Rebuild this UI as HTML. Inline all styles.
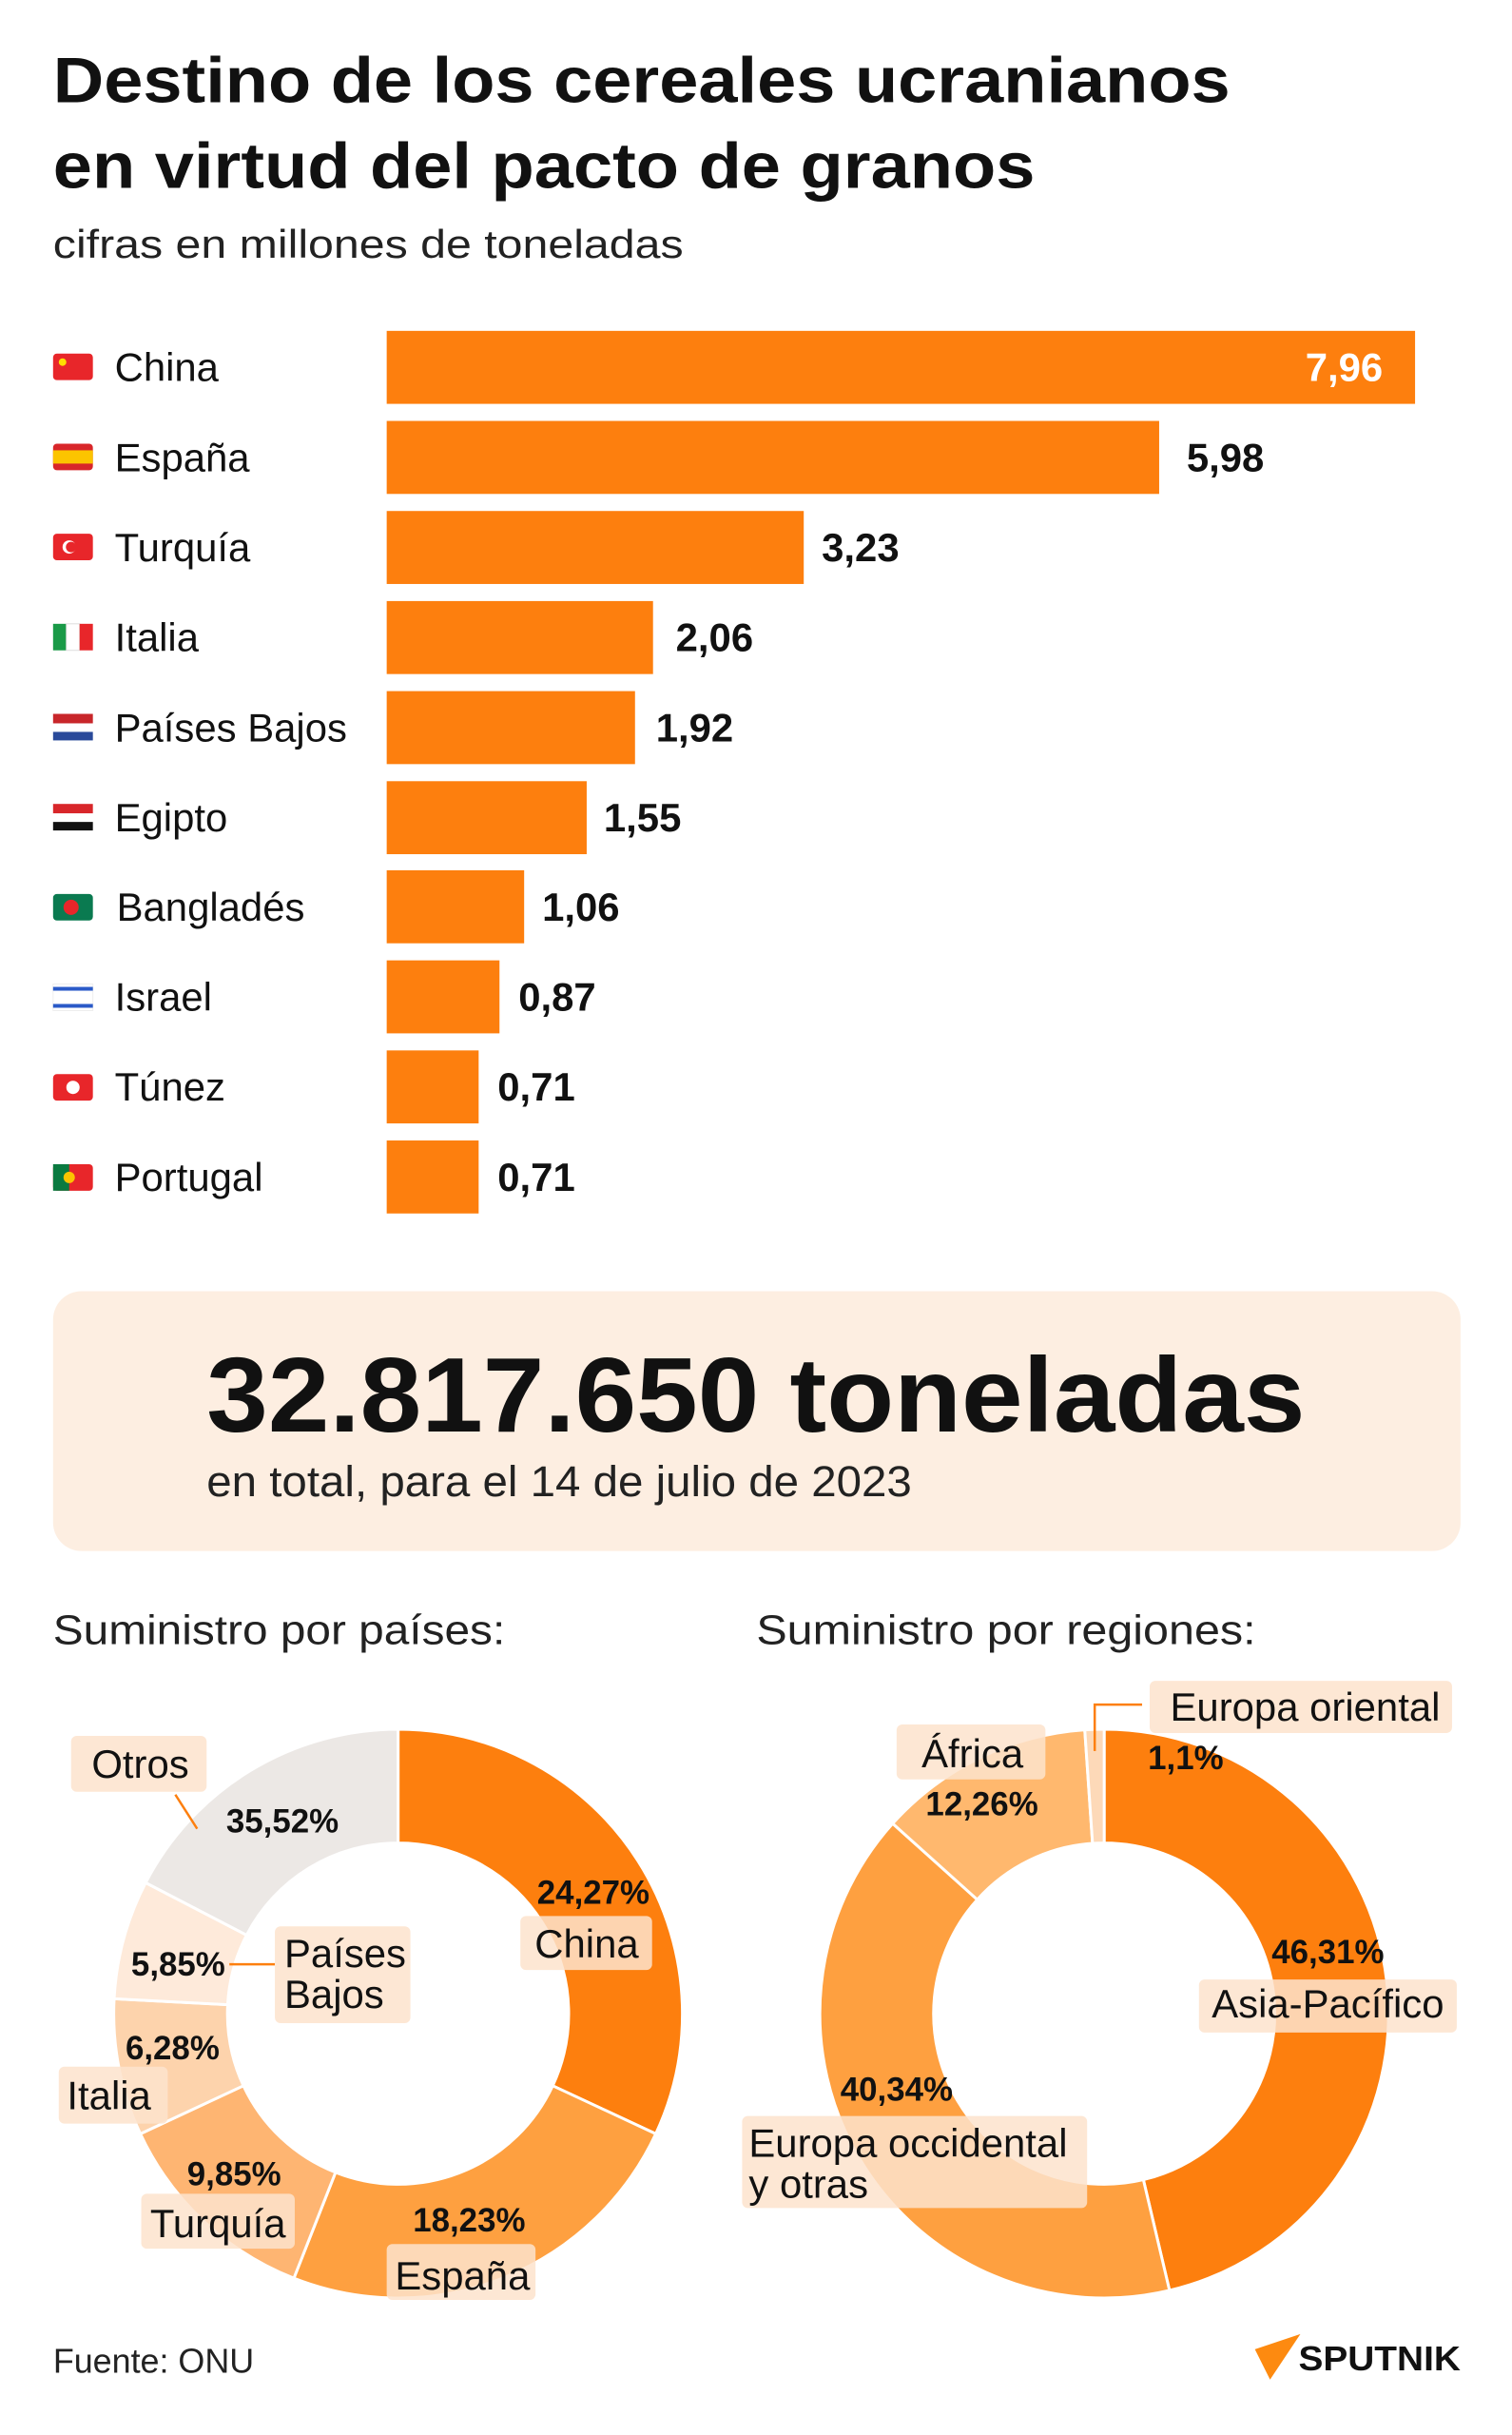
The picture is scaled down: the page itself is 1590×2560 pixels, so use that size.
<!DOCTYPE html>
<html><head><meta charset="utf-8"><style>
html,body{margin:0;padding:0;background:#fff}
svg{display:block}
text{font-family:"Liberation Sans",sans-serif}
</style></head><body>
<svg width="1590" height="2560" viewBox="0 0 1590 2560" xmlns="http://www.w3.org/2000/svg">
<rect width="1590" height="2560" fill="#fff"/>
<g transform="scale(0.9967)">
<text x="56" y="108" font-size="68" font-weight="bold" fill="#111" textLength="1242" lengthAdjust="spacingAndGlyphs">Destino de los cereales ucranianos</text>
<text x="56" y="198" font-size="68" font-weight="bold" fill="#111" textLength="1036" lengthAdjust="spacingAndGlyphs">en virtud del pacto de granos</text>
<text x="56" y="272" font-size="42" fill="#222" textLength="665" lengthAdjust="spacingAndGlyphs">cifras en millones de toneladas</text>

<g font-size="42" fill="#111">
<g fill="#fd7f0e">
<rect x="408" y="349" width="1085" height="77"/>
<rect x="408" y="444" width="815" height="77"/>
<rect x="408" y="539" width="440" height="77"/>
<rect x="408" y="634" width="281" height="77"/>
<rect x="408" y="729" width="262" height="77"/>
<rect x="408" y="824" width="211" height="77"/>
<rect x="408" y="918" width="145" height="77"/>
<rect x="408" y="1013" width="119" height="77"/>
<rect x="408" y="1108" width="97" height="77"/>
<rect x="408" y="1203" width="97" height="77"/>
</g>
<g font-weight="bold">
<text x="1459" y="402" fill="#fff" text-anchor="end">7,96</text>
<text x="1252" y="497">5,98</text>
<text x="867" y="592">3,23</text>
<text x="713" y="687">2,06</text>
<text x="692" y="782">1,92</text>
<text x="637" y="877">1,55</text>
<text x="572" y="971">1,06</text>
<text x="547" y="1066">0,87</text>
<text x="525" y="1161">0,71</text>
<text x="525" y="1256">0,71</text>
</g>
<text x="121" y="402">China</text>
<text x="121" y="497">España</text>
<text x="121" y="592">Turquía</text>
<text x="121" y="687">Italia</text>
<text x="121" y="782">Países Bajos</text>
<text x="121" y="877">Egipto</text>
<text x="123" y="971">Bangladés</text>
<text x="121" y="1066">Israel</text>
<text x="121" y="1161">Túnez</text>
<text x="121" y="1256">Portugal</text>
</g>
<g>
<rect x="56" y="373" width="42" height="28" rx="4" fill="#e8262a"/><circle cx="66" cy="382" r="4" fill="#ffde00"/>
<rect x="56" y="468" width="42" height="28" rx="4" fill="#d8262a"/><rect x="56" y="475" width="42" height="14" fill="#fcc400"/>
<rect x="56" y="563" width="42" height="28" rx="4" fill="#e8262a"/><circle cx="73" cy="577" r="7" fill="#fff"/><circle cx="75" cy="577" r="5.5" fill="#e8262a"/>
<rect x="56" y="658" width="14" height="28" fill="#1a9a48"/><rect x="70" y="658" width="14" height="28" fill="#fff" stroke="#ddd"/><rect x="84" y="658" width="14" height="28" fill="#e8262a"/>
<rect x="56" y="753" width="42" height="10" fill="#c8262a"/><rect x="56" y="763" width="42" height="9" fill="#fff"/><rect x="56" y="772" width="42" height="9" fill="#2a4a9a"/>
<rect x="56" y="848" width="42" height="10" fill="#d8262a"/><rect x="56" y="858" width="42" height="9" fill="#fff"/><rect x="56" y="867" width="42" height="9" fill="#111"/>
<rect x="56" y="943" width="42" height="28" rx="4" fill="#0a7a50"/><circle cx="75" cy="957" r="8" fill="#e8262a"/>
<rect x="56" y="1038" width="42" height="28" fill="#fff" stroke="#eee"/><rect x="56" y="1041" width="42" height="4" fill="#2a5ac8"/><rect x="56" y="1059" width="42" height="4" fill="#2a5ac8"/>
<rect x="56" y="1133" width="42" height="28" rx="4" fill="#e8262a"/><circle cx="77" cy="1147" r="7" fill="#fff"/>
<rect x="56" y="1228" width="42" height="28" rx="4" fill="#e8262a"/><rect x="56" y="1228" width="17" height="28" fill="#0a7a40"/><circle cx="73" cy="1242" r="6" fill="#fcc400"/>
</g>

<rect x="56" y="1362" width="1485" height="274" rx="30" fill="#fdeee1"/>
<text x="218" y="1510" font-size="112" font-weight="bold" fill="#111" textLength="1159" lengthAdjust="spacingAndGlyphs">32.817.650 toneladas</text>
<text x="218" y="1578" font-size="46" fill="#222" textLength="744" lengthAdjust="spacingAndGlyphs">en total, para el 14 de julio de 2023</text>

<text x="56" y="1734" font-size="44" fill="#222" textLength="477" lengthAdjust="spacingAndGlyphs">Suministro por países:</text>
<text x="798" y="1734" font-size="44" fill="#222" textLength="527" lengthAdjust="spacingAndGlyphs">Suministro por regiones:</text>

<g stroke="#fff" stroke-width="3">
<path fill="#fd7f0e" d="M420,1824 A300,300 0 0 1 691.89,2250.79 L583.14,2200.07 A180,180 0 0 0 420,1944 Z"/>
<path fill="#fea040" d="M691.89,2250.79 A300,300 0 0 1 310.05,2403.13 L354.03,2291.48 A180,180 0 0 0 583.14,2200.07 Z"/>
<path fill="#feb572" d="M310.05,2403.13 A300,300 0 0 1 148.11,2250.79 L256.86,2200.07 A180,180 0 0 0 354.03,2291.48 Z"/>
<path fill="#fdd3ac" d="M148.11,2250.79 A300,300 0 0 1 120.41,2108.30 L240.25,2114.58 A180,180 0 0 0 256.86,2200.07 Z"/>
<path fill="#feeada" d="M120.41,2108.30 A300,300 0 0 1 153.65,1985.94 L260.19,2041.16 A180,180 0 0 0 240.25,2114.58 Z"/>
<path fill="#ece8e5" d="M153.65,1985.94 A300,300 0 0 1 420,1824 L420,1944 A180,180 0 0 0 260.19,2041.16 Z"/>
</g>
<g stroke="#fff" stroke-width="3">
<path fill="#fd7f0e" d="M1165,1824 A300,300 0 0 1 1233.91,2415.98 L1206.35,2299.19 A180,180 0 0 0 1165,1944 Z"/>
<path fill="#fea040" d="M1233.91,2415.98 A300,300 0 0 1 941.82,1923.52 L1031.09,2003.71 A180,180 0 0 0 1206.35,2299.19 Z"/>
<path fill="#ffb86e" d="M941.82,1923.52 A300,300 0 0 1 1144.49,1824.70 L1152.70,1944.42 A180,180 0 0 0 1031.09,2003.71 Z"/>
<path fill="#fdd9b8" d="M1144.49,1824.70 A300,300 0 0 1 1165,1824 L1165,1944 A180,180 0 0 0 1152.70,1944.42 Z"/>
</g>

<g stroke="#fd7f0e" stroke-width="2.5" fill="none">
<line x1="185" y1="1893" x2="208" y2="1929"/>
<line x1="242" y1="2072" x2="290" y2="2072"/>
<polyline points="1155,1847 1155,1798 1205,1798"/>
</g>

<g fill="#fde3cc" fill-opacity="0.85">
<rect x="75" y="1831" width="143" height="59" rx="6"/>
<rect x="549" y="2021" width="139" height="57" rx="6"/>
<rect x="290" y="2032" width="143" height="102" rx="6"/>
<rect x="62" y="2180" width="115" height="60" rx="6"/>
<rect x="149" y="2314" width="162" height="58" rx="6"/>
<rect x="408" y="2367" width="157" height="59" rx="6"/>
<rect x="1213" y="1773" width="319" height="55" rx="6"/>
<rect x="946" y="1819" width="157" height="58" rx="6"/>
<rect x="1265" y="2088" width="272" height="56" rx="6"/>
<rect x="783" y="2232" width="364" height="97" rx="6"/>
</g>
<g font-size="42" fill="#111">
<text x="148" y="1875" text-anchor="middle">Otros</text>
<text x="619" y="2065" text-anchor="middle">China</text>
<text x="300" y="2075">Países</text>
<text x="300" y="2118">Bajos</text>
<text x="115" y="2225" text-anchor="middle">Italia</text>
<text x="230" y="2360" text-anchor="middle">Turquía</text>
<text x="488" y="2415" text-anchor="middle">España</text>
<text x="1377" y="1815" text-anchor="middle">Europa oriental</text>
<text x="1026" y="1864" text-anchor="middle">África</text>
<text x="1401" y="2128" text-anchor="middle">Asia-Pacífico</text>
<text x="790" y="2275">Europa occidental</text>
<text x="790" y="2318">y otras</text>
</g>
<g font-size="35" font-weight="bold" fill="#111" text-anchor="middle">
<text x="298" y="1933">35,52%</text>
<text x="626" y="2008">24,27%</text>
<text x="188" y="2084">5,85%</text>
<text x="182" y="2172">6,28%</text>
<text x="247" y="2305">9,85%</text>
<text x="495" y="2354">18,23%</text>
<text x="1251" y="1866">1,1%</text>
<text x="1036" y="1915">12,26%</text>
<text x="1401" y="2071">46,31%</text>
<text x="946" y="2216">40,34%</text>
</g>

<text x="56" y="2503" font-size="36" fill="#222">Fuente: ONU</text>
<polygon points="1324,2478 1372,2462 1340,2510" fill="#fd8a10"/>
<text x="1370" y="2500" font-size="36" font-weight="bold" fill="#111" textLength="171" lengthAdjust="spacingAndGlyphs">SPUTNIK</text>
</g>
</svg>
</body></html>
